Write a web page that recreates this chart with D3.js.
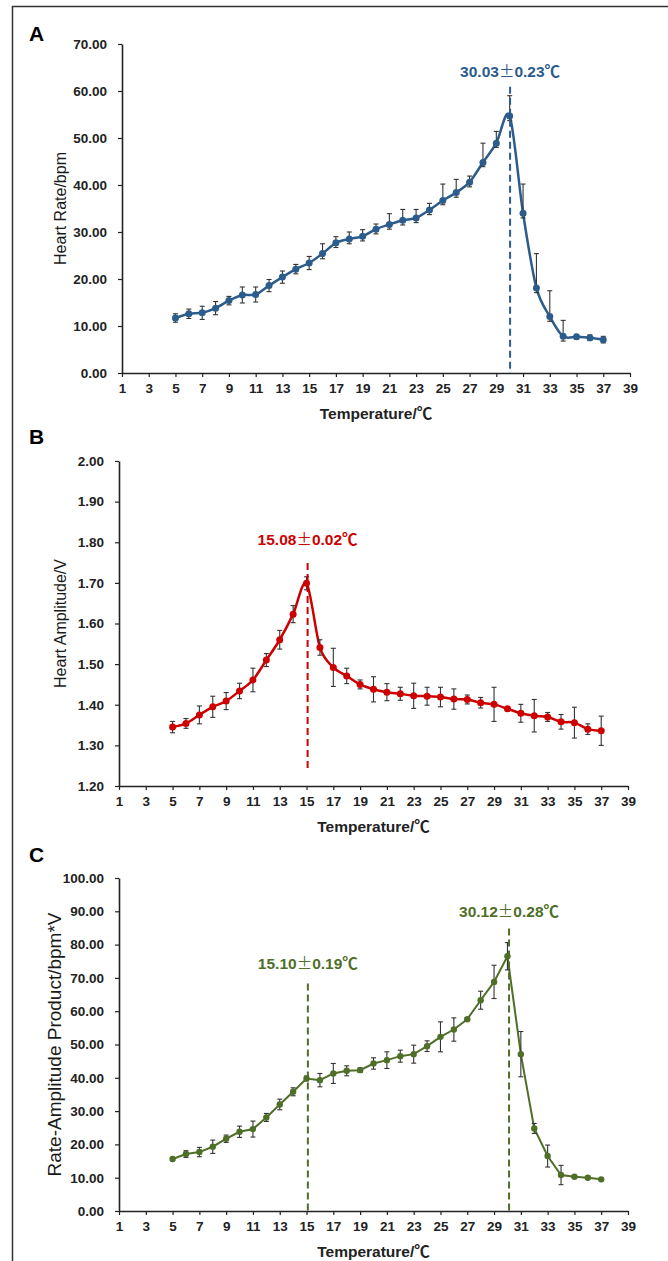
<!DOCTYPE html>
<html>
<head>
<meta charset="utf-8">
<script src="https://cdn.jsdelivr.net/npm/d3@7"></script>
<style>
  body { margin: 0; background: #fff; }
  svg { display: block; font-family: "Liberation Sans", Arial, sans-serif; }
</style>
</head>
<body>
<svg id="chart" width="668" height="1261"></svg>
<script>
// temperatures shared by all three panels
const temps = d3.range(5, 38);
const xTicks = d3.range(1, 40, 2);

// A: heart rate (bpm)
const rateMean = [11.7, 12.6, 12.8, 13.8, 15.4, 16.6, 16.7, 18.6, 20.4, 22.1, 23.4, 25.4, 27.7, 28.5, 29.1, 30.6, 31.6,
  32.5, 33.0, 34.7, 36.7, 38.4, 40.6, 44.8, 48.9, 54.7, 34.0, 18.1, 12.0, 7.8, 7.7, 7.5, 7.1];
const rateErrUp = [0.9, 1.0, 1.4, 1.4, 0.9, 1.7, 1.6, 1.3, 1.3, 1.0, 1.4, 2.1, 1.3, 1.5, 1.4, 1.1, 2.3,
  2.3, 1.8, 1.4, 3.5, 2.8, 1.3, 4.1, 2.5, 4.3, 6.2, 7.3, 5.5, 3.4, 0.5, 0.6, 0.7];
const rateErrDown = [0.9, 1.0, 1.4, 1.4, 0.9, 1.7, 1.6, 1.3, 1.3, 1.0, 1.4, 1.1, 1.0, 1.0, 1.0, 1.0, 1.0,
  1.0, 1.0, 1.0, 0.9, 1.0, 1.0, 0.9, 0.9, 1.0, 1.0, 1.0, 1.0, 1.0, 0.5, 0.6, 0.7];

// B: heart amplitude (V)
const ampMean = [1.345, 1.354, 1.375, 1.395, 1.409, 1.434, 1.461, 1.510, 1.560, 1.623, 1.699, 1.541, 1.492, 1.471, 1.450, 1.438, 1.431,
  1.427, 1.422, 1.421, 1.419, 1.414, 1.413, 1.405, 1.401, 1.390, 1.379, 1.373, 1.370, 1.358, 1.356, 1.340, 1.336];
const ampErr = [0.014, 0.012, 0.022, 0.026, 0.021, 0.019, 0.029, 0.016, 0.023, 0.021, 0.016, 0.019, 0.047, 0.019, 0.011, 0.031, 0.021,
  0.016, 0.031, 0.022, 0.024, 0.025, 0.011, 0.013, 0.042, 0.003, 0.022, 0.040, 0.011, 0.018, 0.038, 0.013, 0.036];

// C: rate-amplitude product (bpm*V)
const rapMean = [15.6, 17.1, 17.7, 19.3, 21.7, 23.8, 24.6, 28.1, 32.0, 35.8, 39.8, 39.3, 41.3, 42.1, 42.3, 44.3, 45.3,
  46.5, 47.1, 49.5, 52.3, 54.5, 57.6, 63.3, 68.8, 76.5, 47.1, 24.8, 16.5, 10.8, 10.3, 10.0, 9.5];
const rapErr = [0.5, 1.0, 1.4, 2.0, 1.1, 1.7, 2.4, 1.2, 1.6, 1.2, 0.7, 2.0, 3.0, 1.5, 0.7, 1.7, 2.5,
  1.8, 2.7, 1.6, 4.5, 3.5, 0.5, 2.7, 5.0, 4.1, 6.8, 1.5, 3.3, 2.9, 0.3, 0.3, 0.3];

// breakpoint annotations: [mean, sd]
const rateBreaks = [{ t: 30.03, sd: 0.23, top: 60.9, bottom: 0, labelY: 63 }];
const ampBreaks = [{ t: 15.08, sd: 0.02, top: 1.749, bottom: 1.235, labelY: 1.794 }];
const rapBreaks = [
  { t: 15.10, sd: 0.19, top: 68.3, bottom: 0, labelY: 72.6 },
  { t: 30.12, sd: 0.28, top: 84.8, bottom: 0, labelY: 88.2 }
];

const cjk = "\"Noto Sans CJK SC\", sans-serif";
const svg = d3.select("#chart");

// figure frame (left and top edges only, the rest is cropped)
svg.append("path")
  .attr("d", "M12.5,1261 V6.5 H668")
  .attr("fill", "none")
  .attr("stroke", "#333")
  .attr("stroke-width", 1.5);

function drawPanel(p) {
  const x = d3.scaleLinear().domain([1, 39]).range([p.left, p.right]);
  const y = d3.scaleLinear().domain(p.yDomain).range([p.bottom, p.top]);
  const g = svg.append("g");

  // panel letter
  g.append("text")
    .attr("x", 29).attr("y", p.top + p.letterDy)
    .attr("font-size", 21).attr("font-weight", "bold")
    .text(p.letter);

  // axes
  const xAxis = g.append("g")
    .attr("transform", `translate(0,${p.bottom})`)
    .call(d3.axisBottom(x).tickValues(xTicks).tickSizeInner(4).tickSizeOuter(0).tickPadding(6));
  const yAxis = g.append("g")
    .attr("transform", `translate(${p.left},0)`)
    .call(d3.axisLeft(y).tickValues(p.yTicks).tickFormat(d3.format(".2f")).tickSizeInner(4).tickSizeOuter(0).tickPadding(11));
  [xAxis, yAxis].forEach(a => {
    a.select(".domain").attr("stroke", "#222").attr("stroke-width", 1.6);
    a.selectAll(".tick line").attr("stroke", "#222").attr("stroke-width", 1.2);
    a.selectAll(".tick text").attr("fill", "#222").attr("font-size", 13.5).attr("font-weight", "bold")
      .attr("font-family", "\"Liberation Sans\", Arial, sans-serif");
  });

  // axis titles
  const xt = g.append("text")
    .attr("x", (p.left + p.right) / 2).attr("y", p.bottom + 46)
    .attr("text-anchor", "middle")
    .attr("font-size", 15.5).attr("font-weight", "bold").attr("fill", "#222");
  xt.append("tspan").text("Temperature/");
  xt.append("tspan").attr("font-family", cjk).text("℃");
  g.append("text")
    .attr("transform", `translate(${p.yTitleX},${(p.top + p.bottom) / 2}) rotate(-90)`)
    .attr("text-anchor", "middle")
    .attr("font-size", p.yTitleSize).attr("fill", "#1a1a1a")
    .text(p.yTitle);

  const pts = temps.map((t, i) => ({ t: t, v: p.mean[i], up: p.errUp[i], down: p.errDown[i] }));

  // connecting line
  g.append("path")
    .datum(pts)
    .attr("fill", "none")
    .attr("stroke", p.color)
    .attr("stroke-width", p.lineWidth)
    .attr("d", d3.line().x(d => x(d.t)).y(d => y(d.v)).curve(p.curve));

  // error bars
  const bars = g.append("g").attr("stroke", "#333").attr("stroke-width", 1.1);
  pts.forEach(d => {
    const cx = x(d.t);
    const y1 = y(d.v + d.up), y2 = y(d.v - d.down);
    bars.append("line").attr("x1", cx).attr("x2", cx).attr("y1", y1).attr("y2", y2);
    bars.append("line").attr("x1", cx - 2.5).attr("x2", cx + 2.5).attr("y1", y1).attr("y2", y1);
    bars.append("line").attr("x1", cx - 2.5).attr("x2", cx + 2.5).attr("y1", y2).attr("y2", y2);
  });

  // markers
  g.selectAll("circle.pt")
    .data(pts)
    .join("circle")
    .attr("class", "pt")
    .attr("cx", d => x(d.t))
    .attr("cy", d => y(d.v))
    .attr("r", p.markerR)
    .attr("fill", p.color);

  // breakpoint lines and labels
  p.breaks.forEach(b => {
    g.append("line")
      .attr("x1", x(b.t)).attr("x2", x(b.t))
      .attr("y1", y(b.top)).attr("y2", y(b.bottom))
      .attr("stroke", p.color)
      .attr("stroke-width", 2)
      .attr("stroke-dasharray", "7,4");
    const lab = g.append("text")
      .attr("x", x(b.t)).attr("y", y(b.labelY))
      .attr("text-anchor", "middle")
      .attr("font-size", 15.5).attr("font-weight", "bold")
      .attr("fill", p.color);
    lab.append("tspan").text(b.t.toFixed(2));
    lab.append("tspan").attr("font-family", cjk).attr("font-weight", "normal").text("±");
    lab.append("tspan").text(b.sd.toFixed(2));
    lab.append("tspan").attr("font-family", cjk).text("℃");
  });
}

drawPanel({
  letter: "A", letterDy: -3,
  left: 122, right: 630, top: 44, bottom: 373,
  yDomain: [0, 70], yTicks: d3.range(0, 71, 10),
  yTitle: "Heart Rate/bpm", yTitleX: 66, yTitleSize: 16,
  mean: rateMean, errUp: rateErrUp, errDown: rateErrDown,
  color: "#2b5c8c", lineWidth: 2.5, markerR: 3.5,
  curve: d3.curveCardinal.tension(0.1),
  breaks: rateBreaks
});

drawPanel({
  letter: "B", letterDy: -17,
  left: 119, right: 628, top: 461, bottom: 786,
  yDomain: [1.2, 2.0], yTicks: d3.range(12, 21).map(d => d / 10),
  yTitle: "Heart Amplitude/V", yTitleX: 66, yTitleSize: 16,
  mean: ampMean, errUp: ampErr, errDown: ampErr,
  color: "#cc0000", lineWidth: 2.5, markerR: 3.5,
  curve: d3.curveCardinal.tension(0.1),
  breaks: ampBreaks
});

drawPanel({
  letter: "C", letterDy: -16,
  left: 119, right: 628, top: 878, bottom: 1211,
  yDomain: [0, 100], yTicks: d3.range(0, 101, 10),
  yTitle: "Rate-Amplitude Product/bpm*V", yTitleX: 61, yTitleSize: 19,
  mean: rapMean, errUp: rapErr, errDown: rapErr,
  color: "#4f6f28", lineWidth: 2, markerR: 3.2,
  curve: d3.curveLinear,
  breaks: rapBreaks
});
</script>
</body>
</html>
